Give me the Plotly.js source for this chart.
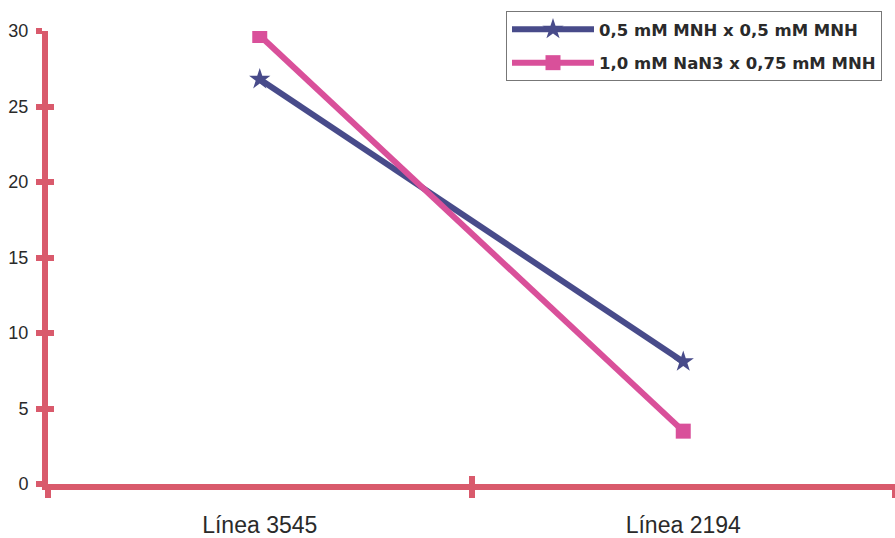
<!DOCTYPE html>
<html><head><meta charset="utf-8">
<script src="https://cdn.plot.ly/plotly-3.0.1.min.js"></script>
<style>html,body{margin:0;padding:0;background:#fff}</style>
</head><body><div id="chart" style="width:895px;height:538px"></div>
<script>
const categories = ["Línea 3545", "Línea 2194"];
const seriesNames = ["0,5 mM MNH x 0,5 mM MNH", "1,0 mM NaN3 x 0,75 mM MNH"];
const seriesA = [26.8, 8.1];
const seriesB = [29.7, 3.5];
const yTicks = [0, 5, 10, 15, 20, 25, 30];

const axisColor = "#d95a6c";
const sans = "Liberation Sans, Arial, sans-serif";
const traces = [
  {x: categories, y: seriesA, name: seriesNames[0], type: "scatter", mode: "lines+markers",
   legendgroup: "a",
   line: {color: "#484b8a", width: 6}, marker: {symbol: "star", size: 16, color: "#484b8a"}},
  {x: categories, y: seriesB, name: seriesNames[1], type: "scatter", mode: "lines+markers",
   legendgroup: "b", xaxis: "x2", yaxis: "y2",
   line: {color: "#d9509a", width: 6}, marker: {symbol: "square", size: 15, color: "#d9509a"}}
];
const layout = {
  width: 895, height: 538,
  margin: {l: 48, r: 0, t: 31, b: 54},
  paper_bgcolor: "#ffffff", plot_bgcolor: "#ffffff",
  font: {family: sans, color: "#2a2a2a"},
  showlegend: true,
  legend: {x: (506 - 48) / 847, y: (484 - 11) / 453, xanchor: "left", yanchor: "top",
    bordercolor: "#777", borderwidth: 1, bgcolor: "#ffffff",
    font: {size: 16.5, color: "#2a2a2a", family: "DejaVu Sans, sans-serif", weight: "bold"},
    itemwidth: 82, tracegroupgap: 9},
  xaxis: {type: "category", range: [-0.5, 1.5], tickson: "boundaries",
    showline: true, linecolor: axisColor, linewidth: 6, showgrid: false, zeroline: false,
    ticks: "outside", ticklen: 8, tickwidth: 6, tickcolor: axisColor, ticklabelstandoff: 15,
    tickfont: {size: 23, color: "#2a2a2a", family: sans}, fixedrange: true},
  yaxis: {range: [0, 30], tickvals: yTicks, showline: true, linecolor: axisColor, linewidth: 6,
    showgrid: false, zeroline: false, ticks: "outside", ticklen: 6, tickwidth: 6, tickcolor: axisColor,
    tickfont: {size: 18, color: "#2a2a2a", family: sans}, ticklabelstandoff: 4, fixedrange: true},
  xaxis2: {type: "category", overlaying: "x", range: [-0.5, 1.5], tickson: "boundaries", ticks: "inside",
    ticklen: 8, tickwidth: 6, tickcolor: axisColor, showticklabels: false, showgrid: false,
    zeroline: false, showline: false, anchor: "y2"},
  yaxis2: {overlaying: "y", range: [0, 30], tickvals: yTicks, ticks: "inside", ticklen: 6,
    tickwidth: 6, tickcolor: axisColor, showticklabels: false, showgrid: false, zeroline: false,
    showline: false, anchor: "x2"}
};
Plotly.newPlot("chart", traces, layout, {displayModeBar: false, staticPlot: true});
</script></body></html>
